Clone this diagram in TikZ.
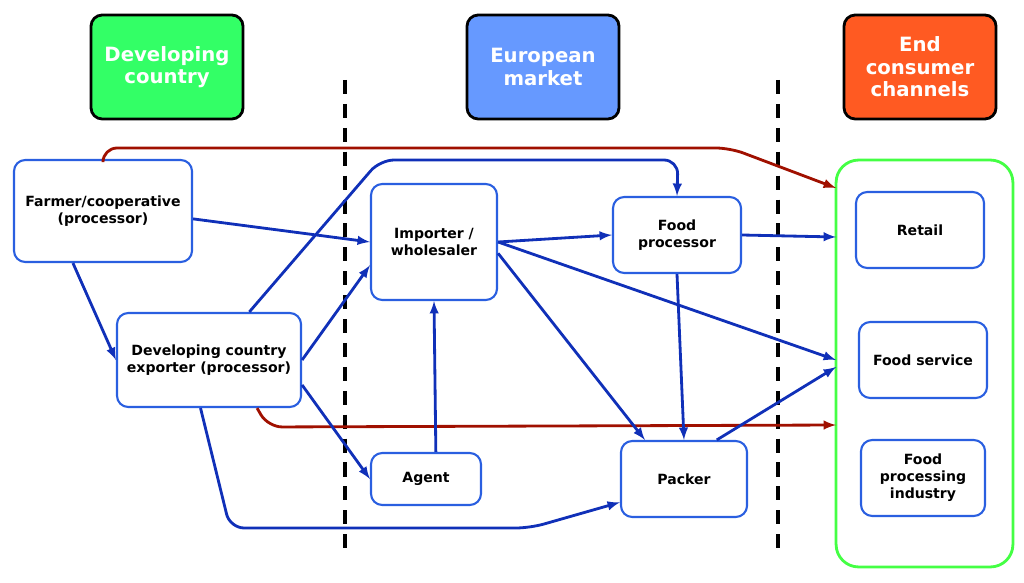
\documentclass[tikz,border=0pt]{standalone}
\usepackage{fontspec}
\setmainfont{DejaVu Sans}
\usetikzlibrary{positioning}
\definecolor{hdrgreen}{HTML}{33FF66}
\definecolor{hdrblue}{HTML}{6699FF}
\definecolor{hdrorange}{HTML}{FF5A22}
\definecolor{flowblue}{HTML}{1030B8}
\definecolor{boxblue}{HTML}{2A5FE0}
\definecolor{flowred}{HTML}{A01000}
\definecolor{boxgreen}{HTML}{44FF44}
\tikzset{
  hdr/.style={draw=black,line width=2pt,rounded corners=8pt,minimum width=3.8cm,minimum height=2.6cm,
    text=white,font=\bfseries\fontsize{14}{16}\selectfont,align=center},
  actor/.style={draw=boxblue,line width=1.5pt,rounded corners=8pt,fill=white,
    font=\bfseries\fontsize{10}{12}\selectfont,align=center},
  flow/.style={draw=flowblue,line width=2pt,-latex,rounded corners=10pt},
  redflow/.style={draw=flowred,line width=2pt,-latex,rounded corners=10pt},
}
\begin{document}
\begin{tikzpicture}[x=0.025cm,y=-0.025cm]
\useasboundingbox (0,0) rectangle (1024,583);
% headers
\node[hdr,fill=hdrgreen] (devhdr) at (167,67) {Developing\\country};
\node[hdr,fill=hdrblue] (euhdr) at (543,67) {European\\market};
\node[hdr,fill=hdrorange] (endhdr) at (920,67) {End\\consumer\\channels};
% borders
\draw[line width=3pt,dash pattern=on 10pt off 7pt] (345,80) -- (345,555);
\draw[line width=3pt,dash pattern=on 10pt off 7pt] (778,80) -- (778,555);
% consumer channels
\node[draw=boxgreen,line width=2pt,rounded corners=16pt,minimum width=4.42cm,minimum height=10.17cm] (channels) at (924.5,363.5) {};
\node[actor,minimum width=3.2cm,minimum height=1.9cm] (retail) at (920,230) {Retail};
\node[actor,minimum width=3.2cm,minimum height=1.9cm] (service) at (923,360) {Food service};
\node[actor,minimum width=3.1cm,minimum height=1.9cm] (industry) at (923,478) {Food\\processing\\industry};
% chain actors
\node[actor,minimum width=4.45cm,minimum height=2.55cm] (farmer) at (103,211) {Farmer/cooperative\\(processor)};
\node[actor,minimum width=4.6cm,minimum height=2.35cm] (exporter) at (209,360) {Developing country\\exporter (processor)};
\node[actor,minimum width=3.15cm,minimum height=2.9cm] (importer) at (434,242) {Importer /\\wholesaler};
\node[actor,minimum width=2.75cm,minimum height=1.3cm] (agent) at (426,479) {Agent};
\node[actor,minimum width=3.2cm,minimum height=1.9cm] (foodproc) at (677,235) {Food\\processor};
\node[actor,minimum width=3.15cm,minimum height=1.9cm] (packer) at (684,479) {Packer};
% junction points
\coordinate (c1) at (380,160);
\coordinate (c2) at (678,160);
\coordinate (c3) at (230,528);
\coordinate (c4) at (530,528);
\coordinate (r1) at (103,148);
\coordinate (r2) at (730,148);
\coordinate (r3) at (268,427);
\coordinate (chTop) at (836,188);
\coordinate (chMid) at (836,425);
\coordinate (chRet) at (836,237);
\coordinate (chSrv) at (836,360);
\coordinate (chSrv2) at (836,367);
% flows
\draw[redflow] (farmer.north) -- (r1) -- (r2) -- (chTop);
\draw[redflow] (exporter.-45) -- (r3) -- (chMid);
\draw[flow] (farmer.-5) -- (importer.west);
\draw[flow] (farmer.-120) -- (exporter.west);
\draw[flow] (exporter.east) -- (importer.-160);
\draw[flow] (exporter.-15) -- (agent.west);
\draw[flow] (exporter.50) -- (c1) -- (c2) -- (foodproc.north);
\draw[flow] (exporter.-100) -- (c3) -- (c4) -- (packer.-160);
\draw[flow] (agent.70) -- (importer.-90);
\draw[flow] (importer.east) -- (foodproc.west);
\draw[flow] (importer.-10) -- (packer.135);
\draw[flow] (importer.east) -- (chSrv);
\draw[flow] (foodproc.east) -- (chRet);
\draw[flow] (foodproc.south) -- (packer.north);
\draw[flow] (packer.50) -- (chSrv2);
\end{tikzpicture}
\end{document}
